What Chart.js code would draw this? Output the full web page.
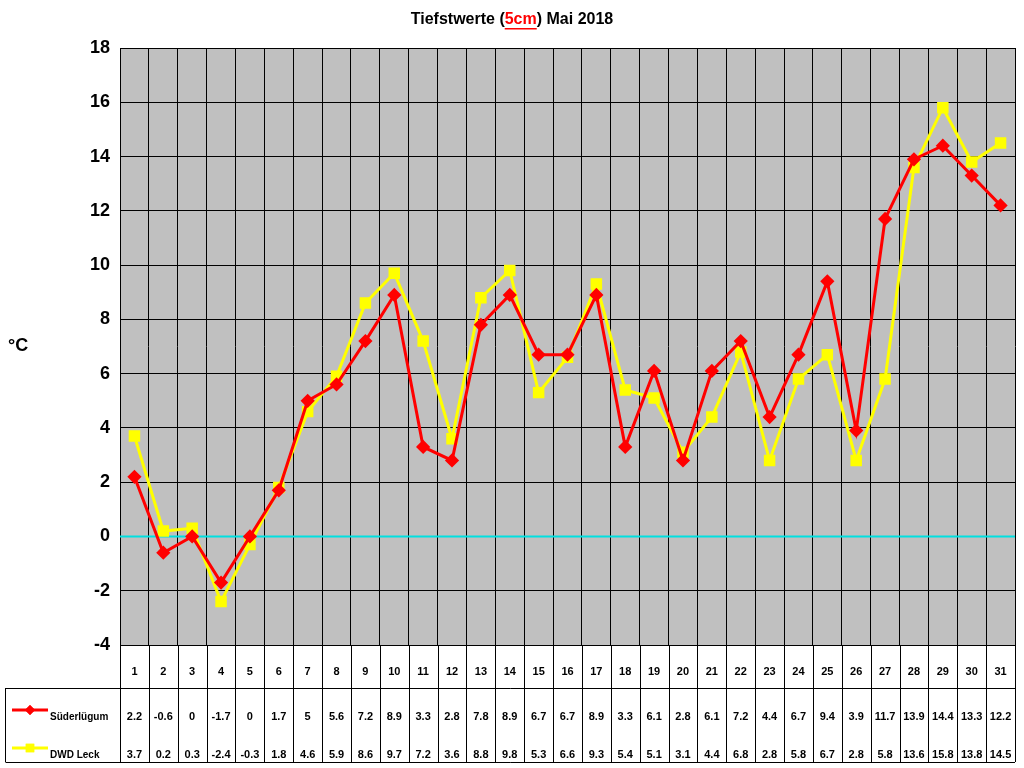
<!DOCTYPE html>
<html><head><meta charset="utf-8">
<script src="https://cdn.jsdelivr.net/npm/chart.js@4"></script>
<style>body{margin:0;background:#fff}#wrap{width:1024px;height:768px}</style>
</head><body><div id="wrap"><canvas id="c" width="1024" height="768"></canvas></div>
<script>
const days = Array.from({length: 31}, (_, i) => String(i + 1));
const suederluegum = [2.2,-0.6,0,-1.7,0,1.7,5,5.6,7.2,8.9,3.3,2.8,7.8,8.9,6.7,6.7,8.9,3.3,6.1,2.8,6.1,7.2,4.4,6.7,9.4,3.9,11.7,13.9,14.4,13.3,12.2];
const dwdLeck = [3.7,0.2,0.3,-2.4,-0.3,1.8,4.6,5.9,8.6,9.7,7.2,3.6,8.8,9.8,5.3,6.6,9.3,5.4,5.1,3.1,4.4,6.8,2.8,5.8,6.7,2.8,5.8,13.6,15.8,13.8,14.5];
const seriesNames = ['Süderlügum', 'DWD Leck'];

// Titel, Achsentitel, Nulllinie und Datentabelle
const extras = {
  id: 'extras',
  beforeDatasetsDraw(chart) {
    const {ctx, chartArea: a, scales: {y}} = chart;
    const y0 = y.getPixelForValue(0);
    ctx.save();
    ctx.strokeStyle = '#00e0e0'; ctx.lineWidth = 2;
    ctx.beginPath(); ctx.moveTo(a.left, y0); ctx.lineTo(a.right, y0); ctx.stroke();
    ctx.restore();
  },
  afterDraw(chart) {
    const {ctx, chartArea: a, scales: {x}} = chart;
    ctx.save();
    // Titel
    ctx.font = 'bold 16px Arial'; ctx.textBaseline = 'middle';
    const p1 = 'Tiefstwerte (', p2 = '5cm', p3 = ') Mai 2018';
    const w1 = ctx.measureText(p1).width, w2 = ctx.measureText(p2).width, w3 = ctx.measureText(p3).width;
    let tx = 512 - (w1 + w2 + w3) / 2;
    ctx.fillStyle = '#000'; ctx.fillText(p1, tx, 20);
    ctx.fillStyle = '#ff0000'; ctx.fillText(p2, tx + w1, 20);
    ctx.fillRect(tx + w1, 28, w2, 1.5);
    ctx.fillStyle = '#000'; ctx.fillText(p3, tx + w1 + w2, 20);
    // y-Titel
    ctx.font = 'bold 18px Arial';
    ctx.fillText('°C', 8, 346);
    // Tabelle
    const top = a.bottom, mid = 688, bot = 762;
    const colW = (a.right - a.left) / days.length;
    ctx.strokeStyle = '#000'; ctx.lineWidth = 1;
    ctx.beginPath();
    for (let i = 0; i <= days.length; i++) {
      const xx = Math.round(a.left + i * colW) + 0.5;
      ctx.moveTo(xx, top); ctx.lineTo(xx, bot);
    }
    ctx.moveTo(5.5, mid + 0.5); ctx.lineTo(a.right, mid + 0.5);
    ctx.moveTo(5.5, bot + 0.5); ctx.lineTo(a.right, bot + 0.5);
    ctx.moveTo(5.5, mid); ctx.lineTo(5.5, bot);
    ctx.stroke();
    ctx.font = 'bold 11px Arial'; ctx.textAlign = 'center'; ctx.fillStyle = '#000';
    days.forEach((d, i) => {
      const cx = x.getPixelForValue(i);
      ctx.fillText(d, cx, 672);
      ctx.fillText(String(suederluegum[i]), cx, 717);
      ctx.fillText(String(dwdLeck[i]), cx, 755);
    });
    // Legende
    const leg = [[717, '#ff0000', 'rectRot', 5], [755, '#ffff00', 'rect', 6]];
    leg.forEach(([ly, col, st, r], k) => {
      ctx.strokeStyle = col; ctx.lineWidth = 3;
      ctx.beginPath(); ctx.moveTo(12, ly - 7); ctx.lineTo(48, ly - 7); ctx.stroke();
      ctx.fillStyle = col;
      Chart.helpers.drawPoint(ctx, {pointStyle: st, radius: r, borderWidth: 0}, 30, ly - 7);
      ctx.fill();
      ctx.fillStyle = '#000'; ctx.font = 'bold 10px Arial'; ctx.textAlign = 'left';
      ctx.fillText(seriesNames[k], 50, ly);
    });
    ctx.restore();
  }
};

const bg = {
  id: 'bg',
  beforeDraw(chart) {
    const {ctx, chartArea: a} = chart;
    ctx.save(); ctx.fillStyle = '#c0c0c0';
    ctx.fillRect(a.left, a.top, a.right - a.left, a.bottom - a.top);
    ctx.restore();
  }
};

new Chart(document.getElementById('c'), {
  type: 'line',
  data: {
    labels: days,
    datasets: [
      {label: seriesNames[0], data: suederluegum, borderColor: '#ff0000', backgroundColor: '#ff0000',
       borderWidth: 3, pointStyle: 'rectRot', pointRadius: 5, tension: 0},
      {label: seriesNames[1], data: dwdLeck, borderColor: '#ffff00', backgroundColor: '#ffff00',
       borderWidth: 3, pointStyle: 'rect', pointRadius: 6, tension: 0}
    ]
  },
  options: {
    responsive: false, animation: false,
    layout: {padding: {top: 48, right: 6, bottom: 123, left: 0}},
    plugins: {legend: {display: false}, tooltip: {enabled: false}, title: {display: false}},
    scales: {
      x: {offset: true, grid: {color: '#000', offset: true, drawTicks: false}, border: {color: '#000'},
          ticks: {display: false}},
      y: {min: -4, max: 18, grid: {color: '#000', drawTicks: false}, border: {color: '#000'},
          afterFit: s => { s.width = 120; },
          ticks: {stepSize: 2, color: '#000', font: {family: 'Arial', size: 18, weight: 'bold'}, padding: 10}}
    }
  },
  plugins: [bg, extras]
});
</script></body></html>
